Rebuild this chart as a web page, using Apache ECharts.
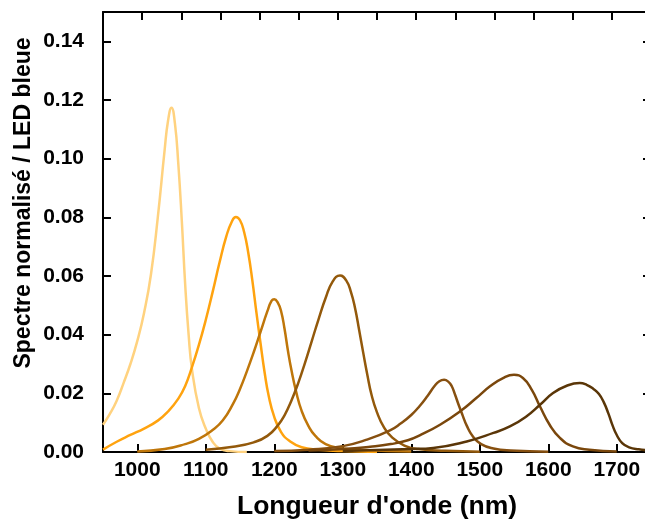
<!DOCTYPE html>
<html>
<head>
<meta charset="utf-8">
<script src="https://cdn.jsdelivr.net/npm/echarts@6/dist/echarts.min.js"></script>
<style>html,body{margin:0;padding:0;background:#fff}#c{width:645px;height:519px}</style>
</head>
<body>
<div id="c"></div>
<script>
// Tick labels
const xTickValues = [1000, 1100, 1200, 1300, 1400, 1500, 1600, 1700];
const yTickValues = [0, 0.02, 0.04, 0.06, 0.08, 0.10, 0.12, 0.14];

// Series colours (light to dark)
const colors = ['#FFD27F', '#FFA30F', '#BF760A', '#93590B', '#875010', '#7A470C', '#5A3608'];

// Curve 1 (peak ~1050 nm)
const c1X = [950, 960, 970, 980, 990, 1000, 1010, 1020, 1030, 1040, 1045, 1050, 1055, 1060, 1065, 1070, 1075, 1080, 1090, 1100, 1110, 1120, 1135, 1160];
const c1Y = [0.0093, 0.0130, 0.0175, 0.0235, 0.0300, 0.0378, 0.0475, 0.0605, 0.0800, 0.1030, 0.1130, 0.1174, 0.1120, 0.0980, 0.0790, 0.0570, 0.0400, 0.0280, 0.0150, 0.0080, 0.0035, 0.0012, 0.0003, 0];
// Curve 2 (peak ~1144 nm)
const c2X = [950, 970, 990, 1010, 1030, 1045, 1060, 1070, 1080, 1090, 1100, 1110, 1120, 1130, 1138, 1144, 1150, 1156, 1162, 1168, 1174, 1180, 1186, 1192, 1200, 1210, 1222, 1240, 1265, 1300, 1350];
const c2Y = [0.0008, 0.0035, 0.0058, 0.0080, 0.0107, 0.0138, 0.0182, 0.0225, 0.0290, 0.0365, 0.0450, 0.0545, 0.0645, 0.0735, 0.0785, 0.0801, 0.0790, 0.0750, 0.0680, 0.0585, 0.0475, 0.0370, 0.0270, 0.0190, 0.0120, 0.0068, 0.0038, 0.0016, 0.0008, 0.0003, 0];
// Curve 3 (peak ~1200 nm)
const c3X = [1000, 1040, 1070, 1090, 1110, 1125, 1140, 1150, 1160, 1170, 1180, 1190, 1196, 1200, 1205, 1210, 1215, 1220, 1225, 1232, 1240, 1250, 1260, 1275, 1295, 1330, 1400];
const c3Y = [0.0002, 0.0010, 0.0027, 0.0045, 0.0075, 0.0108, 0.0165, 0.0215, 0.0275, 0.0340, 0.0410, 0.0480, 0.0515, 0.0521, 0.0510, 0.0480, 0.0420, 0.0345, 0.0280, 0.0205, 0.0140, 0.0088, 0.0055, 0.0027, 0.0014, 0.0007, 0.0002];
// Curve 4 (peak ~1296 nm)
const c4X = [1100, 1140, 1170, 1190, 1205, 1215, 1225, 1235, 1245, 1255, 1265, 1275, 1285, 1296, 1305, 1312, 1318, 1324, 1330, 1336, 1342, 1350, 1360, 1372, 1390, 1410, 1450, 1500];
const c4Y = [0.0008, 0.0018, 0.0033, 0.0055, 0.0090, 0.0125, 0.0175, 0.0235, 0.0305, 0.0380, 0.0455, 0.0525, 0.0580, 0.0602, 0.0585, 0.0545, 0.0490, 0.0415, 0.0337, 0.0262, 0.0195, 0.0135, 0.0085, 0.0050, 0.0022, 0.0010, 0.0004, 0.0001];
// Curve 5 (peak ~1448 nm)
const c5X = [1200, 1250, 1300, 1335, 1369, 1385, 1400, 1412, 1424, 1434, 1441, 1448, 1454, 1459, 1464, 1469, 1475, 1481, 1490, 1502, 1520, 1545, 1600];
const c5Y = [0.0003, 0.0008, 0.0020, 0.0042, 0.0074, 0.0098, 0.0126, 0.0156, 0.0192, 0.0225, 0.0241, 0.0246, 0.0240, 0.0225, 0.0195, 0.0162, 0.0125, 0.0090, 0.0053, 0.0027, 0.0012, 0.0005, 0.0001];
// Curve 6 (peak ~1550 nm)
const c6X = [1250, 1300, 1340, 1370, 1395, 1415, 1442, 1471, 1495, 1515, 1534, 1550, 1563, 1576, 1588, 1602, 1617, 1636, 1660, 1700];
const c6Y = [0.0005, 0.0010, 0.0018, 0.0027, 0.0040, 0.0060, 0.0093, 0.0138, 0.0184, 0.0224, 0.0252, 0.0263, 0.0252, 0.0212, 0.0155, 0.0093, 0.0048, 0.0019, 0.0008, 0.0002];
// Curve 7 (peak ~1646 nm)
const c7X = [1300, 1400, 1432, 1481, 1520, 1544, 1568, 1588, 1607, 1627, 1646, 1656, 1666, 1674, 1681, 1688, 1694, 1700, 1708, 1718, 1732, 1750];
const c7Y = [0.0003, 0.0010, 0.0014, 0.0036, 0.0065, 0.0087, 0.0121, 0.0161, 0.0201, 0.0226, 0.0235, 0.0229, 0.0215, 0.0198, 0.0170, 0.0130, 0.0090, 0.0058, 0.0030, 0.0016, 0.0009, 0.0005];

const curves = [[c1X, c1Y], [c2X, c2Y], [c3X, c3Y], [c4X, c4Y], [c5X, c5Y], [c6X, c6Y], [c7X, c7Y]];

const FONT = 'Liberation Sans';
const axisLine = { show: true, onZero: false, lineStyle: { color: '#000', width: 2 } };
const tickStyle = { lineStyle: { color: '#000', width: 2 } };

const chart = echarts.init(document.getElementById('c'), null, { renderer: 'canvas' });
chart.setOption({
  animation: false,
  backgroundColor: '#fff',
  grid: { left: 103, right: -6, top: 12, bottom: 67, containLabel: false, outerBoundsMode: 'none' },
  xAxis: [
    {
      type: 'value', min: 950, max: 1750, position: 'bottom',
      axisLine: axisLine,
      axisTick: Object.assign({ show: true, inside: true, length: 8, customValues: xTickValues }, tickStyle),
      axisLabel: { show: true, customValues: xTickValues, margin: 8, color: '#000', fontFamily: FONT, fontWeight: 'bold', fontSize: 21,
        formatter: v => String(v) },
      splitLine: { show: false },
      name: "Longueur d'onde (nm)", nameLocation: 'middle', nameGap: 41,
      nameTextStyle: { color: '#000', fontFamily: FONT, fontWeight: 'bold', fontSize: 26.5 }
    },
    {
      type: 'value', min: 0, max: 14, interval: 1, position: 'top',
      axisLine: axisLine,
      axisTick: Object.assign({ show: true, inside: true, length: 8 }, tickStyle),
      axisLabel: { show: false },
      splitLine: { show: false }
    }
  ],
  yAxis: [
    {
      type: 'value', min: 0, max: 0.15, position: 'left',
      axisLine: axisLine,
      axisTick: Object.assign({ show: true, inside: true, length: 8, customValues: yTickValues }, tickStyle),
      axisLabel: { show: true, customValues: yTickValues, margin: 19, color: '#000', fontFamily: FONT, fontWeight: 'bold', fontSize: 21,
        formatter: v => v.toFixed(2) },
      splitLine: { show: false }
    },
    {
      type: 'value', min: 0, max: 0.15, position: 'right',
      axisLine: axisLine,
      axisTick: Object.assign({ show: true, inside: true, length: 8, customValues: yTickValues }, tickStyle),
      axisLabel: { show: false },
      splitLine: { show: false }
    }
  ],
  graphic: [{
    type: 'text', x: 24, y: 203, rotation: Math.PI / 2,
    style: { text: 'Spectre normalisé / LED bleue', fill: '#000', font: 'bold 23px "Liberation Sans"', align: 'center', verticalAlign: 'middle' }
  }],
  series: curves.map((c, i) => ({
    type: 'line', xAxisIndex: 0, yAxisIndex: 0,
    showSymbol: false, smooth: 0.5, clip: true, z: 2 + i,
    lineStyle: { color: colors[i], width: 2.5 },
    data: c[0].map((x, j) => [x, c[1][j]])
  }))
});
</script>
</body>
</html>
